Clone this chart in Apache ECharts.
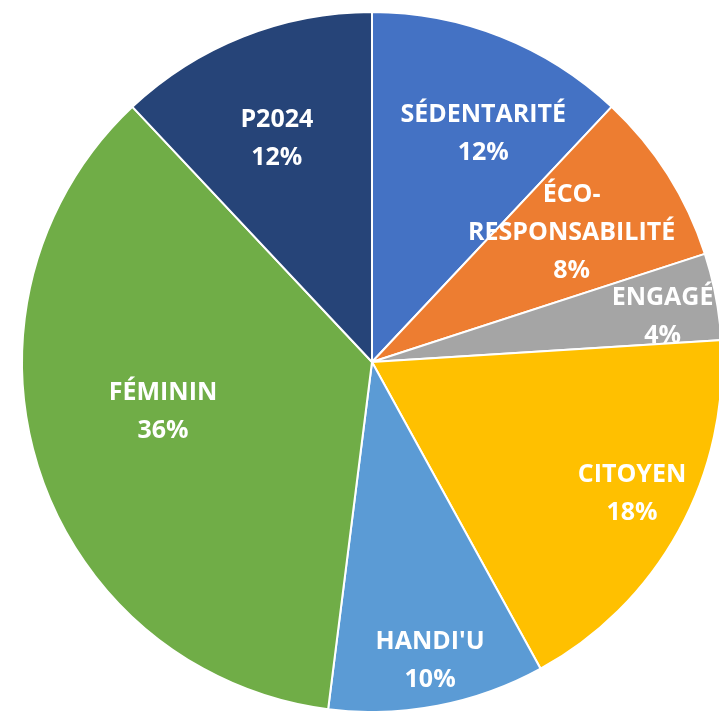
<!DOCTYPE html>
<html>
<head>
<meta charset="utf-8">
<script src="https://cdn.jsdelivr.net/npm/echarts@6/dist/echarts.min.js"></script>
<style>
  html, body { margin: 0; padding: 0; background: #fff; }
  #chart { width: 719px; height: 711px; }
</style>
</head>
<body>
<div id="chart"></div>
<script>
// Data
const categories = ['SÉDENTARITÉ', 'ÉCO-\nRESPONSABILITÉ', 'ENGAGÉ', 'CITOYEN', "HANDI'U", 'FÉMININ', 'P2024'];
const shares = [12, 8, 4, 18, 10, 36, 12];
const colors = ['#4472C4', '#ED7D31', '#A5A5A5', '#FFC000', '#5B9BD5', '#70AD47', '#264478'];

// label placement: fraction of radius + angle nudge (deg) from slice middle
const labelRadius = [0.725, 0.68, 0.84, 0.833, 0.87, 0.614, 0.693];
const labelTurn = [4.4, -0.6, 2.0, -1.9, -0.2, 4.5, -1.5];

const cx = 372, cy = 362, R = 350;

const total = shares.reduce((a, b) => a + b, 0);

function midAngle(i) {
    let before = 0;
    for (let k = 0; k < i; k++) before += shares[k];
    return (before + shares[i] / 2) / total * 360;
}

document.addEventListener('DOMContentLoaded', function () {
    const myChart = echarts.init(document.getElementById('chart'));

    const option = {
        animation: false,
        series: [{
            type: 'pie',
            center: [cx, cy],
            radius: [0, R],
            startAngle: 90,
            clockwise: true,
            avoidLabelOverlap: false,
            itemStyle: {
                borderColor: '#fff',
                borderWidth: 2
            },
            label: {
                show: true,
                position: 'inside',
                color: '#fff',
                fontFamily: 'Open Sans',
                fontWeight: 'bold',
                fontSize: 25,
                lineHeight: 38,
                align: 'center',
                formatter: function (p) {
                    return p.name + '\n' + p.value + '%';
                }
            },
            labelLine: { show: false },
            labelLayout: function (params) {
                const i = params.dataIndex;
                const a = (midAngle(i) + labelTurn[i]) * Math.PI / 180;
                const d = labelRadius[i] * R;
                return {
                    x: cx + d * Math.sin(a),
                    y: cy - d * Math.cos(a),
                    align: 'center',
                    verticalAlign: 'middle'
                };
            },
            data: categories.map((name, i) => ({
                name: name,
                value: shares[i],
                itemStyle: { color: colors[i] }
            }))
        }]
    };

    myChart.setOption(option);
});
</script>
</body>
</html>
